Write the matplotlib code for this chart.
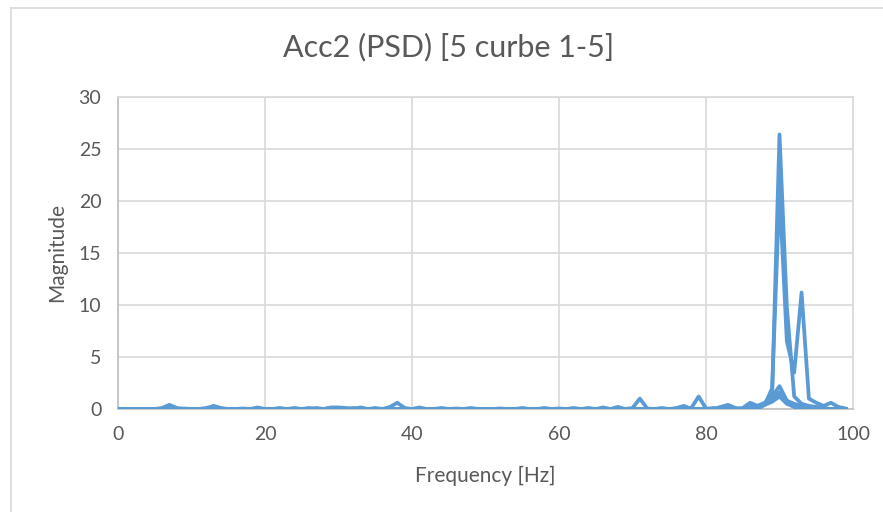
import numpy as np
import matplotlib.pyplot as plt
from matplotlib.lines import Line2D

plt.rcParams['font.family'] = ['Lato', 'DejaVu Sans']

title = 'Acc2 (PSD) [5 curbe 1-5]'
freq = np.arange(0, 100)

# five PSD curves, Hz 0..99
curve1 = np.zeros(100)
curve2 = np.zeros(100)
curve3 = np.zeros(100)
curve4 = np.zeros(100)
curve5 = np.zeros(100)

curve1[[6, 7, 8, 13, 14, 19, 29, 30, 31, 37, 38, 39, 41]] = [0.1, 0.4, 0.1, 0.3, 0.1, 0.15, 0.15, 0.15, 0.1, 0.2, 0.6, 0.1, 0.15]
curve1[[86, 87, 88, 89, 90, 91, 92, 93, 94, 95, 96]] = [0.2, 0.3, 0.6, 1.5, 26.4, 9.8, 1.2, 0.5, 0.3, 0.2, 0.1]

curve2[[12, 13, 22, 26, 33, 48, 55, 62, 66]] = [0.1, 0.25, 0.1, 0.1, 0.15, 0.1, 0.1, 0.1, 0.15]
curve2[[85, 86, 87, 88, 89, 90, 91, 92, 93, 94, 95, 96, 97, 98, 99]] = [0.1, 0.6, 0.3, 0.4, 2.0, 21.0, 6.5, 3.5, 11.2, 1.0, 0.6, 0.3, 0.6, 0.2, 0.05]

curve3[[70, 71, 72, 78, 79, 80, 82, 83, 84]] = [0.1, 1.0, 0.05, 0.1, 1.2, 0.05, 0.2, 0.4, 0.1]
curve3[[88, 89, 90, 91, 92, 93, 94]] = [0.5, 1.2, 2.2, 0.8, 0.5, 0.3, 0.2]

curve4[[17, 24, 29, 35, 44, 52, 58, 64, 68, 76, 77]] = [0.05, 0.1, 0.1, 0.1, 0.1, 0.05, 0.1, 0.1, 0.2, 0.1, 0.3]
curve4[[87, 88, 89, 90, 91, 92]] = [0.3, 0.5, 0.9, 1.6, 0.6, 0.3]

curve5[[9, 27, 32, 46, 60, 74, 81]] = [0.05, 0.1, 0.1, 0.05, 0.05, 0.1, 0.1]
curve5[[88, 89, 90, 91, 92]] = [0.4, 0.7, 1.2, 0.5, 0.2]

curves = [curve1, curve2, curve3, curve4, curve5]

fig = plt.figure(figsize=(8.83, 5.12), dpi=100)

# chart area border (left and top edges visible)
fig.add_artist(Line2D([11/883, 11/883], [0, 1 - 8/512], transform=fig.transFigure, color='#D9D9D9', lw=1.2))
fig.add_artist(Line2D([11/883, 1], [1 - 8/512, 1 - 8/512], transform=fig.transFigure, color='#D9D9D9', lw=1.2))

ax = fig.add_axes([118/883, 1 - 409/512, (853 - 118)/883, (409 - 97)/512])

for c in curves:
    ax.plot(freq, c, color='#5B9BD5', lw=2.7, solid_joinstyle='round', zorder=3)

ax.set_xlim(0, 100)
ax.set_ylim(0, 30)
ax.set_xticks(np.arange(0, 101, 20))
ax.set_yticks(np.arange(0, 31, 5))
ax.grid(True, color='#D9D9D9', lw=1.2)
ax.set_axisbelow(True)
for s in ax.spines.values():
    s.set_color('#D9D9D9')
    s.set_linewidth(1.2)
ax.spines['left'].set_color('#BFBFBF')
ax.spines['bottom'].set_color('#BFBFBF')
ax.tick_params(length=0, labelsize=14, labelcolor='#595959', pad=12)

# title is centred on the whole chart area, not the plot
fig.text(449/883, 1 - 47/512, title, fontsize=22, color='#595959', ha='center', va='center')
ax.set_xlabel('Frequency [Hz]', fontsize=15, color='#595959', labelpad=17)
ax.set_ylabel('Magnitude', fontsize=15, color='#595959', labelpad=8)

fig.savefig('out.png', dpi=100)
